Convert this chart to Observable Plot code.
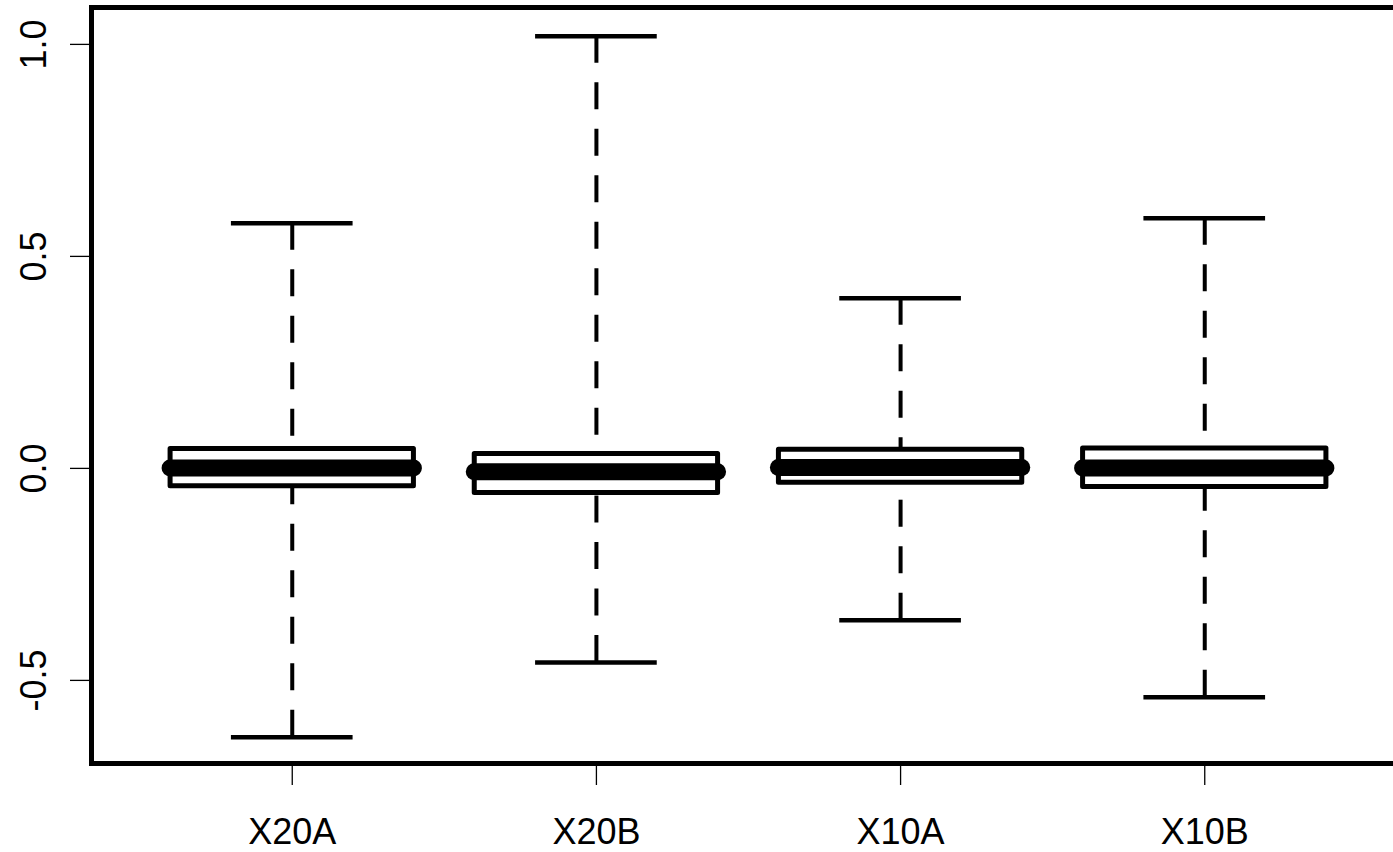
<!DOCTYPE html>
<html>
<head>
<meta charset="utf-8">
<script src="https://cdn.jsdelivr.net/npm/d3@7"></script>
<script src="https://cdn.jsdelivr.net/npm/@observablehq/plot@0.6"></script>
<style>
  html, body { margin: 0; padding: 0; background: #fff; overflow: hidden; }
  #chart svg { display: block; }
</style>
</head>
<body>
<div id="chart"></div>
<script>
// Box plot summaries
const categories   = ["X20A", "X20B", "X10A", "X10B"];
const lowerWhisker = [-0.634, -0.458, -0.358, -0.540];
const lowerHinge   = [-0.042, -0.058, -0.034, -0.044];
const medians      = [0.001, -0.008, 0.002, 0.001];
const upperHinge   = [0.046, 0.034, 0.044, 0.047];
const upperWhisker = [0.578, 1.019, 0.401, 0.590];
const yTicks = [-0.5, 0.0, 0.5, 1.0];

const rows = categories.map((c, i) => ({
  cat: c, pos: i + 1,
  lo: lowerWhisker[i], q1: lowerHinge[i], med: medians[i], q3: upperHinge[i], hi: upperWhisker[i]
}));

const boxHalf = 0.4, capHalf = 0.2;

const chart = Plot.plot({
  width: 1393,
  height: 852,
  marginLeft: 91,
  marginRight: -12,
  marginTop: 7,
  marginBottom: 89,
  style: { fontFamily: "'Liberation Sans', Arial, sans-serif", background: "#fff", color: "#000" },
  x: { type: "linear", domain: [0.34, 4.66] },
  y: { domain: [-0.696, 1.087] },
  marks: [
    // whiskers (dashed), drawn from whisker end towards the box
    Plot.ruleX(rows, { x: "pos", y1: "hi", y2: "q3", stroke: "#000", strokeWidth: 4, strokeDasharray: "27,19.5" }),
    Plot.ruleX(rows, { x: "pos", y1: "lo", y2: "q1", stroke: "#000", strokeWidth: 4, strokeDasharray: "27,19.5" }),
    // whisker caps
    Plot.ruleY(rows, { y: "hi", x1: d => d.pos - capHalf, x2: d => d.pos + capHalf, stroke: "#000", strokeWidth: 4.5 }),
    Plot.ruleY(rows, { y: "lo", x1: d => d.pos - capHalf, x2: d => d.pos + capHalf, stroke: "#000", strokeWidth: 4.5 }),
    // boxes
    Plot.rect(rows, { x1: d => d.pos - boxHalf, x2: d => d.pos + boxHalf, y1: "q1", y2: "q3",
      fill: "#fff", stroke: "#000", strokeWidth: 5, strokeLinejoin: "round" }),
    // medians
    Plot.ruleY(rows, { y: "med", x1: d => d.pos - boxHalf, x2: d => d.pos + boxHalf,
      stroke: "#000", strokeWidth: 17, strokeLinecap: "round" }),
    // frame
    Plot.frame({ stroke: "#000", strokeWidth: 5 }),
    // axes
    Plot.axisY({ ticks: yTicks, tickFormat: d => d.toFixed(1), tickSize: 21, tickPadding: 25,
      tickRotate: -90, textAnchor: "middle", lineAnchor: "bottom", fontSize: 36, strokeWidth: 1.3, label: null }),
    Plot.axisX({ ticks: rows.map(d => d.pos), tickFormat: (d) => categories[d - 1], tickSize: 22, tickPadding: 33,
      fontSize: 36, strokeWidth: 1.3, label: null })
  ]
});

document.getElementById("chart").appendChild(chart);
</script>
</body>
</html>
